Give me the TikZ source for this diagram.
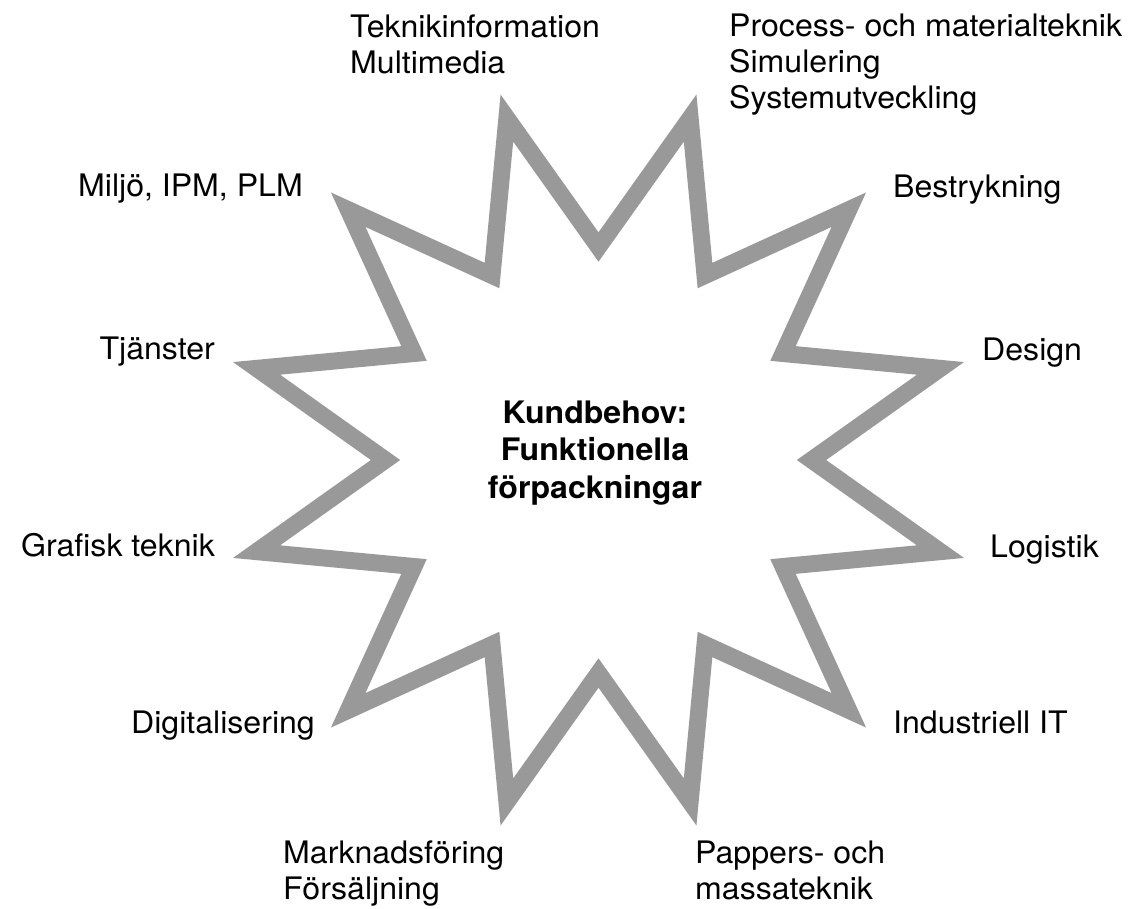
\documentclass[tikz,border=0pt]{standalone}
\usepackage{fontspec}
\setmainfont{TeX Gyre Heros}[FakeStretch=1.035]
\usetikzlibrary{calc}
\definecolor{stargray}{RGB}{153,153,153}
\tikzset{
  lbl/.style={font=\fontsize{31}{36.5}\selectfont, inner sep=0pt, text=black},
  lw/.style={lbl, anchor=base west},
  le/.style={lbl, anchor=base east},
  ctr/.style={lbl, anchor=base, font=\fontsize{31}{36.5}\selectfont\bfseries},
  starline/.style={draw=stargray, line width=17pt, line join=miter, miter limit=10}
}
\begin{document}
\begin{tikzpicture}[x=1pt, y=-1pt]
\useasboundingbox (0,0) rectangle (1131,908);
\coordinate (c) at (598.5,460);
\foreach \k in {0,...,11} {
  \coordinate (t\k) at ($(c)+(15+30*\k:354)$);
  \coordinate (i\k) at ($(c)+(30*\k:213)$);
}
\draw[starline] (i0) -- (t0) -- (i1) -- (t1) -- (i2) -- (t2) -- (i3) -- (t3) -- (i4) -- (t4) -- (i5) -- (t5) -- (i6) -- (t6) -- (i7) -- (t7) -- (i8) -- (t8) -- (i9) -- (t9) -- (i10) -- (t10) -- (i11) -- (t11) -- cycle;

\node[ctr] (k1) at (595,423) {Kundbehov:};
\node[ctr] (k2) at (595,460) {Funktionella};
\node[ctr] (k3) at (595,498) {förpackningar};

\node[lw] (tek1) at (350,37) {Teknikinformation};
\node[lw] (tek2) at (350,73) {Multimedia};
\node[lw] (pro1) at (729,36) {Process- och materialteknik};
\node[lw] (pro2) at (729,72) {Simulering};
\node[lw] (pro3) at (729,108) {Systemutveckling};
\node[le] (mil) at (303,196) {Miljö, IPM, PLM};
\node[lw] (bes) at (893,197) {Bestrykning};
\node[le] (tja) at (215,359) {Tjänster};
\node[lw] (des) at (982,360) {Design};
\node[le] (gra) at (215,556) {Grafisk teknik};
\node[lw] (log) at (990,557) {Logistik};
\node[le] (dig) at (315,733) {Digitalisering};
\node[lw] (ind) at (893,733) {Industriell IT};
\node[lw] (mar1) at (283,863) {Marknadsföring};
\node[lw] (mar2) at (283,899) {Försäljning};
\node[lw] (pap1) at (695,863) {Pappers- och};
\node[lw] (pap2) at (695,899) {massateknik};
\end{tikzpicture}
\end{document}
